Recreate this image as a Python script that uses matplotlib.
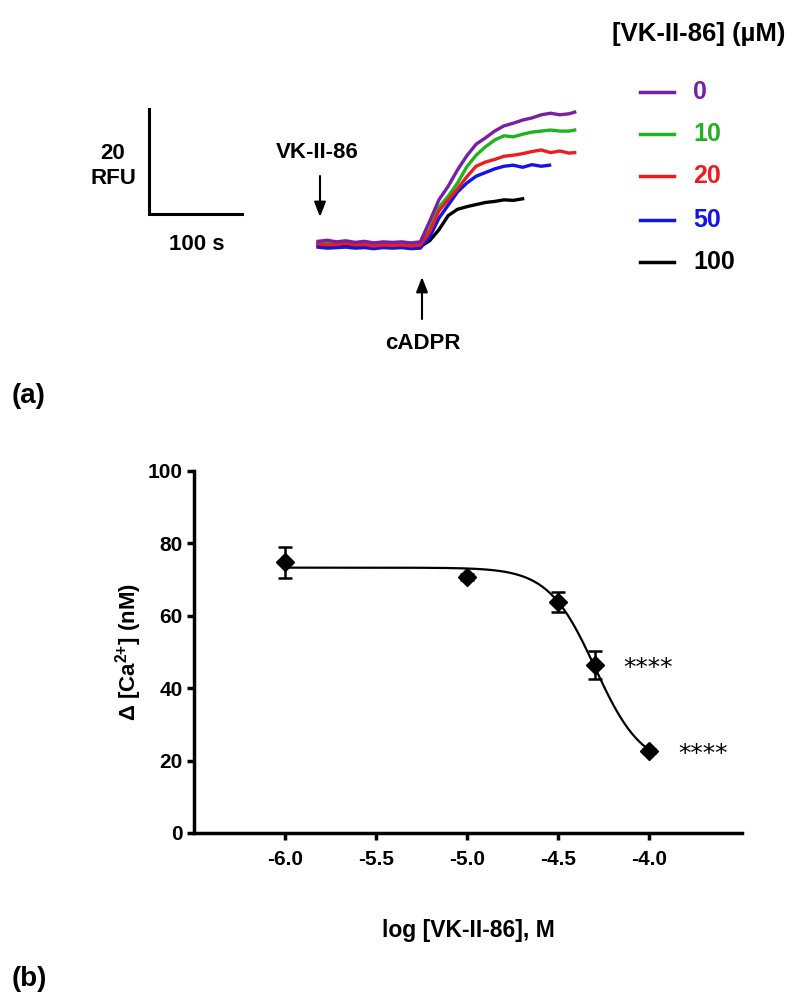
import matplotlib
matplotlib.use('Agg')
import matplotlib.pyplot as plt
from matplotlib.lines import Line2D
import numpy as np

plt.rcParams['font.family'] = ['Liberation Sans', 'DejaVu Sans']
plt.rcParams['axes.unicode_minus'] = False
plt.rcParams['mathtext.fontset'] = 'custom'
plt.rcParams['mathtext.rm'] = 'Liberation Sans'
plt.rcParams['mathtext.bf'] = 'Liberation Sans:bold'

W, H = 800, 1006

# ---- panel (a): fluorescence traces (time in s, signal in RFU)
conc_labels = ['0', '10', '20', '50', '100']
colors = ['#7a1fa2', '#1fb41f', '#ee1c1c', '#1414e6', '#000000']

base_t = list(range(0, 120, 10))
t_long = base_t + list(range(120, 271, 10)) + [276]
t_blue = base_t + list(range(120, 241, 10)) + [249]
t_black = base_t + list(range(120, 221, 10))

rfu_0 = [0.7, 0.9, 0.6, 0.8, 0.5, 0.7, 0.4, 0.6, 0.5, 0.6, 0.4, 0.6,
         4.5, 8.6, 11.2, 14.3, 17.0, 19.2, 20.4, 21.7, 22.7, 23.2, 23.8, 24.2,
         24.8, 25.1, 24.8, 25.0, 25.3]
rfu_10 = [0.3, 0.4, 0.2, 0.4, 0.2, 0.3, 0.1, 0.3, 0.2, 0.3, 0.1, 0.2,
          3.0, 7.2, 9.3, 11.8, 14.9, 17.1, 18.7, 20.0, 20.8, 20.6, 21.1, 21.5,
          21.7, 21.9, 21.7, 21.7, 21.9]
rfu_20 = [0.2, 0.0, 0.1, 0.3, 0.0, 0.1, -0.2, 0.0, -0.1, 0.0, -0.2, 0.0,
          2.5, 6.5, 8.6, 10.7, 13.0, 15.0, 15.8, 16.3, 16.9, 17.1, 17.4, 17.8,
          18.1, 17.6, 17.9, 17.5, 17.6]
rfu_50 = [-0.4, -0.6, -0.5, -0.4, -0.6, -0.5, -0.7, -0.5, -0.6, -0.5, -0.7, -0.6,
          1.5, 5.1, 7.6, 10.1, 11.8, 13.1, 13.8, 14.5, 15.0, 15.2, 14.8, 15.3,
          15.0, 15.2]
rfu_100 = [0.0, -0.2, 0.0, -0.1, -0.2, -0.1, -0.3, -0.2, -0.3, -0.2, -0.3, -0.3,
           0.8, 2.9, 5.6, 6.8, 7.3, 7.7, 8.1, 8.3, 8.6, 8.5, 8.8]

traces = [(t_long, rfu_0), (t_long, rfu_10), (t_long, rfu_20),
          (t_blue, rfu_50), (t_black, rfu_100)]

scale_time = 100  # s
scale_rfu = 20    # RFU

# ---- panel (b): concentration-response
log_conc = [-6.0, -5.0, -4.5, -4.3, -4.0]
delta_ca = [74.8, 70.8, 63.8, 46.4, 22.6]
sem = [4.3, 0.8, 2.85, 3.85, 0.6]
fit_top, fit_bottom, fit_logic50, fit_hill = 73.3, 18.0, -4.297, 3.38
stars = ['', '', '', '****', '****']


def fx(x):
    return x / W


def fy(y):
    return 1 - y / H


fig = plt.figure(figsize=(8, 10.06), dpi=100)

# trace axes: 0.93 px per s, 5.25 px per RFU, origin at pixel (318, 245)
px_s, px_rfu = 0.93, 5.25
ax_a = fig.add_axes([0, fy(370), 1, 370 / H])
ax_a.set_xlim(-318 / px_s, (W - 318) / px_s)
ax_a.set_ylim(-(370 - 245) / px_rfu, 245 / px_rfu)
ax_a.axis('off')

order = [4, 3, 1, 2, 0]
for i in order:
    tt, yy = traces[i]
    ax_a.plot(tt, yy, color=colors[i], lw=2.4, solid_joinstyle='round')

# scale bar
sb_t = -181.7
sb_y = 5.9
ax_a.plot([sb_t, sb_t, sb_t + scale_time], [sb_y + scale_rfu, sb_y, sb_y],
          color='black', lw=2.2, solid_joinstyle='miter')

bold = dict(fontweight='bold', ha='center', va='center')
fig.text(fx(113), fy(166), '%d\nRFU' % scale_rfu, fontsize=16, linespacing=1.2, **bold)
fig.text(fx(197), fy(244), '%d s' % scale_time, fontsize=16, **bold)
fig.text(fx(317), fy(153), 'VK-II-86', fontsize=16, **bold)
fig.text(fx(423), fy(344), 'cADPR', fontsize=16, **bold)

arrow = dict(arrowstyle='-|>,head_width=0.35,head_length=0.9', color='black', lw=1.5,
             shrinkA=0, shrinkB=0)
ax_a.annotate('', xy=(fx(320), fy(217)), xytext=(fx(320), fy(176)),
              xycoords='figure fraction', textcoords='figure fraction', arrowprops=arrow)
ax_a.annotate('', xy=(fx(422), fy(277)), xytext=(fx(422), fy(319)),
              xycoords='figure fraction', textcoords='figure fraction', arrowprops=arrow)

# legend
fig.text(fx(699), fy(34), '[VK-II-86] (µM)', fontsize=18.5, **bold)
rows = [92, 134, 176, 220, 262]
for lab, c, ry in zip(conc_labels, colors, rows):
    fig.add_artist(Line2D([fx(640), fx(674)], [fy(ry), fy(ry)], color=c, lw=2.5))
    fig.text(fx(693), fy(ry), lab, color=c, fontsize=18, fontweight='bold',
             ha='left', va='center')

fig.text(fx(12), fy(396), '(a)', fontsize=20, fontweight='bold', ha='left', va='center')
fig.text(fx(12), fy(979), '(b)', fontsize=20, fontweight='bold', ha='left', va='center')

# ---- panel (b)
ax_b = fig.add_axes([fx(194), fy(833), 548 / W, (833 - 471) / H])
xs = np.linspace(-6.0, -4.0, 300)
fit = fit_bottom + (fit_top - fit_bottom) / (1 + 10 ** ((xs - fit_logic50) * fit_hill))
ax_b.plot(xs, fit, color='black', lw=1.6)
ax_b.errorbar(log_conc, delta_ca, yerr=sem, fmt='D', color='black', ms=9.5,
              ecolor='black', elinewidth=1.8, capsize=5, capthick=1.8)
for x, y, s in zip(log_conc, delta_ca, stars):
    if s:
        ax_b.annotate(s, xy=(x, y), xytext=(21, -7), textcoords='offset points',
                      fontsize=18, family='DejaVu Sans', ha='left', va='baseline')

ax_b.set_xlim(-6.5, -3.49)
ax_b.set_ylim(0, 100)
ax_b.set_xticks([-6.0, -5.5, -5.0, -4.5, -4.0])
ax_b.set_xticklabels(['%.1f' % v for v in [-6.0, -5.5, -5.0, -4.5, -4.0]])
ax_b.set_yticks([0, 20, 40, 60, 80, 100])
for s in ['top', 'right']:
    ax_b.spines[s].set_visible(False)
for s in ['left', 'bottom']:
    ax_b.spines[s].set_linewidth(2.5)
ax_b.tick_params(width=2.5, length=5, labelsize=15, direction='out')
ax_b.tick_params(axis='x', pad=7)
ax_b.tick_params(axis='y', pad=3)
for lab in ax_b.get_xticklabels() + ax_b.get_yticklabels():
    lab.set_fontweight('bold')
ax_b.set_xlabel('log [VK-II-86], M', fontsize=16.5, fontweight='bold', labelpad=36)
ax_b.set_ylabel(r'Δ [Ca$^{\mathbf{2{+}}}$] (nM)', fontsize=16, fontweight='bold', labelpad=3)
ax_b.patch.set_alpha(0)

fig.savefig('out.png', dpi=100)
